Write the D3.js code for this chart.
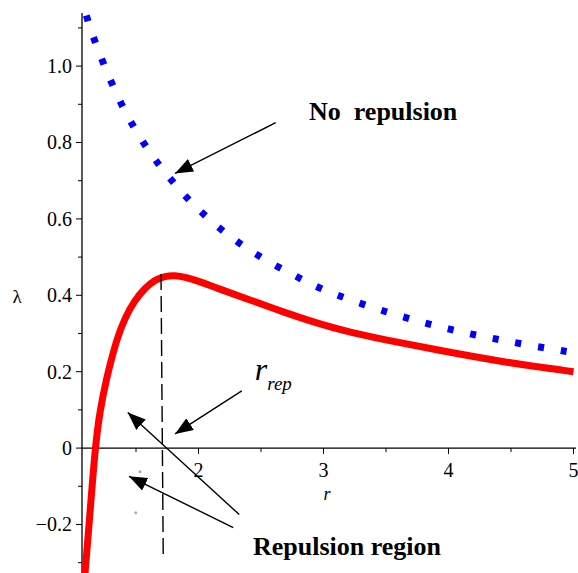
<!DOCTYPE html>
<html>
<head>
<meta charset="utf-8">
<style>
  body { margin: 0; background: #fff; }
  svg text { font-family: 'Liberation Serif', 'Times New Roman', serif; }
</style>
</head>
<body>
<div id="chart"></div>
<script src="https://d3js.org/d3.v7.min.js"></script>
<script>
// values
const blueR   = [1.07, 1.10, 1.2, 1.4, 1.6, 1.8, 2.0, 2.25, 2.5, 2.75, 3.0, 3.5, 4.0, 4.5, 5.0];
const blueL   = [1.17, 1.135, 1.04, 0.89, 0.78, 0.695, 0.625, 0.555, 0.50, 0.455, 0.415, 0.357, 0.312, 0.278, 0.25];

const redR    = [1.080, 1.092, 1.124, 1.172, 1.212, 1.266, 1.306, 1.350, 1.412, 1.486, 1.572, 1.652, 1.732, 1.812, 1.90, 2.0, 2.146, 2.412, 2.678, 2.946, 3.212, 3.5, 3.906, 4.438, 5.0];
const redL    = [-0.38, -0.326, -0.205, 0, 0.100, 0.184, 0.236, 0.288, 0.341, 0.385, 0.419, 0.441, 0.450, 0.4525, 0.447, 0.437, 0.419, 0.388, 0.356, 0.327, 0.303, 0.283, 0.257, 0.225, 0.200];

const xMajor  = [2, 3, 4, 5];
const xMinor  = [1.5, 2.5, 3.5, 4.5];
const yMajor  = [-0.2, 0, 0.2, 0.4, 0.6, 0.8, 1.0];
const yMinor  = [-0.3, -0.1, 0.1, 0.3, 0.5, 0.7, 0.9, 1.1];

// r_rep marker line
const repLine = [[1.70, 0.456], [1.718, -0.287]];

// arrows: [tail r, tail λ, tip r, tip λ]
const arrows = [
  [2.618, 0.852, 1.812, 0.719],
  [2.346, 0.150, 1.812, 0.037],
  [2.326, -0.174, 1.434, 0.093],
  [2.278, -0.208, 1.444, -0.074]
];

// stray gray specks in the figure
const specks = [[1.532, -0.062], [1.498, -0.169]];

const W = 578, H = 573;
const x = d3.scaleLinear().domain([1.068, 5.02]).range([82, 576]);
const y = d3.scaleLinear().domain([-0.327, 1.139]).range([573, 13]);

const svg = d3.select('#chart').append('svg')
  .attr('width', W).attr('height', H)
  .attr('font-family', "'Liberation Serif', serif");

svg.append('defs').append('clipPath').attr('id', 'plot')
  .append('rect').attr('x', 82).attr('y', 13).attr('width', 496).attr('height', 560);

svg.select('defs').append('marker')
  .attr('id', 'head')
  .attr('markerUnits', 'userSpaceOnUse')
  .attr('viewBox', '0 0 18 14')
  .attr('refX', 18).attr('refY', 7)
  .attr('markerWidth', 18).attr('markerHeight', 14)
  .attr('orient', 'auto')
  .append('path').attr('d', 'M0,0 L18,7 L0,14 Z').attr('fill', '#000');

// axes
const xAxis = svg.append('g').attr('transform', `translate(0,${y(0)})`);
xAxis.append('line').attr('x1', x(1.068)).attr('x2', 576).attr('stroke', '#000').attr('stroke-width', 1.3);
xAxis.selectAll('.maj').data(xMajor).join('line')
  .attr('x1', d => x(d)).attr('x2', d => x(d)).attr('y1', 0).attr('y2', 6)
  .attr('stroke', '#000').attr('stroke-width', 1);
xAxis.selectAll('.min').data(xMinor).join('line')
  .attr('x1', d => x(d)).attr('x2', d => x(d)).attr('y1', 0).attr('y2', 4)
  .attr('stroke', '#000').attr('stroke-width', 1);
xAxis.selectAll('text').data(xMajor).join('text')
  .attr('x', d => x(d)).attr('y', 29)
  .attr('text-anchor', 'middle').attr('font-size', 20)
  .text(d => d);

const yAxis = svg.append('g').attr('transform', `translate(${x(1.068)},0)`);
yAxis.append('line').attr('y1', 13).attr('y2', 573).attr('stroke', '#000').attr('stroke-width', 1.3);
yAxis.selectAll('.maj').data(yMajor).join('line')
  .attr('x1', -6).attr('x2', 0).attr('y1', d => y(d)).attr('y2', d => y(d))
  .attr('stroke', '#000').attr('stroke-width', 1);
yAxis.selectAll('.min').data(yMinor).join('line')
  .attr('x1', -4).attr('x2', 0).attr('y1', d => y(d)).attr('y2', d => y(d))
  .attr('stroke', '#000').attr('stroke-width', 1);
yAxis.selectAll('text').data(yMajor).join('text')
  .attr('x', -10).attr('y', d => y(d)).attr('dy', '0.35em')
  .attr('text-anchor', 'end').attr('font-size', 20)
  .text(d => d === 0 ? '0' : (d < 0 ? '\u2212' : '') + Math.abs(d).toFixed(1));

svg.append('text').attr('x', 17).attr('y', 303).attr('text-anchor', 'middle')
  .attr('font-size', 19).text('\u03bb');
svg.append('text').attr('x', 327).attr('y', 500).attr('text-anchor', 'middle')
  .attr('font-size', 18).attr('font-style', 'italic').text('r');

// curves
const plot = svg.append('g').attr('clip-path', 'url(#plot)');

plot.append('path')
  .attr('d', d3.line().x(d => x(d[0])).y(d => y(d[1])).curve(d3.curveBasis)(d3.zip(redR, redL)))
  .attr('fill', 'none').attr('stroke', '#ff0000').attr('stroke-width', 7);

plot.append('path')
  .attr('d', d3.line().x(d => x(d[0])).y(d => y(d[1])).curve(d3.curveCatmullRom.alpha(0.5))(d3.zip(blueR, blueL)))
  .attr('fill', 'none').attr('stroke', '#0000ff').attr('stroke-width', 7)
  .attr('stroke-dasharray', '6,17').attr('stroke-dashoffset', 8);

svg.append('line')
  .attr('x1', x(repLine[0][0])).attr('y1', y(repLine[0][1]))
  .attr('x2', x(repLine[1][0])).attr('y2', y(repLine[1][1]))
  .attr('stroke', '#000').attr('stroke-width', 1.4)
  .attr('stroke-dasharray', '16,6');

svg.selectAll('.arrow').data(arrows).join('line')
  .attr('x1', d => x(d[0])).attr('y1', d => y(d[1]))
  .attr('x2', d => x(d[2])).attr('y2', d => y(d[3]))
  .attr('stroke', '#000').attr('stroke-width', 1.4)
  .attr('marker-end', 'url(#head)');

svg.selectAll('.speck').data(specks).join('circle')
  .attr('cx', d => x(d[0])).attr('cy', d => y(d[1]))
  .attr('r', 1.5).attr('fill', '#aaa');

// annotations
svg.append('text').attr('x', x(2.884)).attr('y', y(0.859))
  .attr('font-size', 26).attr('font-weight', 'bold')
  .style('white-space', 'pre')
  .text('No  repulsion');
svg.append('text').attr('x', x(2.436)).attr('y', y(-0.279))
  .attr('font-size', 26).attr('font-weight', 'bold')
  .text('Repulsion region');
const rr = svg.append('text').attr('x', x(2.45)).attr('y', y(0.179))
  .attr('font-style', 'italic');
rr.append('tspan').attr('font-size', 32).text('r');
rr.append('tspan').attr('font-size', 19).attr('dy', 10).text('rep');
</script>
</body>
</html>
